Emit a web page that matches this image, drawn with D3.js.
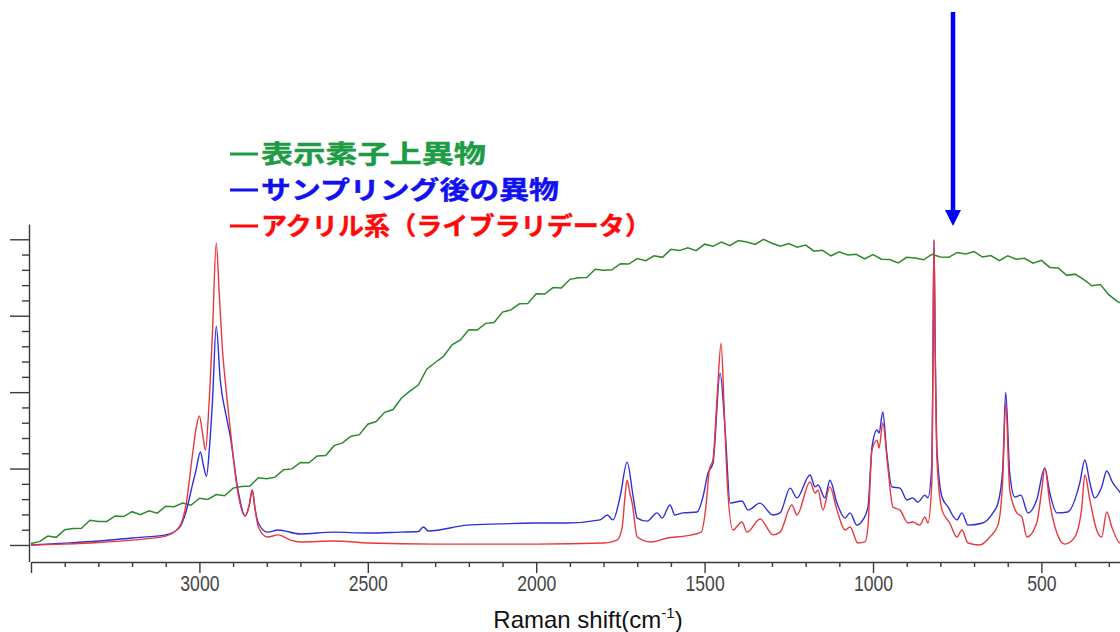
<!DOCTYPE html>
<html>
<head>
<meta charset="utf-8">
<script src="https://cdn.jsdelivr.net/npm/d3@7"></script>
<style>
  html, body { margin: 0; padding: 0; background: #fff; }
  svg { display: block; }
</style>
</head>
<body>
<script>
// spectra: [Raman shift (cm-1), intensity]
var greenSpectrum = [
  [3500,0.5],[3475,1.1],[3450,2.9],[3425,2.5],[3400,5.0],[3375,5.4],[3350,5.5],[3325,8.1],[3300,7.7],[3275,7.7],
  [3250,9.5],[3225,9.3],[3200,10.9],[3175,9.9],[3150,11.2],[3125,10.4],[3100,12.7],[3075,12.5],[3050,13.7],[3025,13.0],
  [3000,15.3],[2975,14.9],[2950,16.5],[2925,16.1],[2900,18.6],[2875,19.1],[2850,19.3],[2825,22.0],[2800,21.7],[2775,22.2],
  [2750,24.6],[2725,24.9],[2700,27.0],[2675,26.9],[2650,29.1],[2625,29.3],[2600,32.5],[2575,33.4],[2550,35.6],[2525,36.1],
  [2500,39.5],[2475,40.4],[2450,43.4],[2425,44.3],[2400,48.1],[2375,50.3],[2350,52.3],[2325,57.5],[2300,59.7],[2275,61.7],
  [2250,65.5],[2225,67.1],[2200,70.4],[2175,70.3],[2150,72.5],[2125,72.8],[2100,76.2],[2075,76.9],[2050,78.9],[2025,79.0],
  [2000,82.2],[1975,82.1],[1950,84.2],[1925,84.1],[1900,86.9],[1875,87.4],[1850,87.5],[1825,90.2],[1800,89.9],[1775,90.0],
  [1750,92.0],[1725,91.9],[1700,93.7],[1675,93.0],[1650,94.6],[1625,94.1],[1600,96.7],[1575,96.3],[1550,97.2],[1525,96.3],
  [1500,98.4],[1475,97.7],[1450,99.1],[1425,97.9],[1400,99.6],[1375,99.1],[1350,98.3],[1325,100.0],[1300,98.7],[1275,97.7],
  [1250,98.6],[1225,97.4],[1200,98.1],[1175,96.1],[1150,96.4],[1125,94.6],[1100,95.9],[1075,94.9],[1050,95.1],[1025,93.6],
  [1000,95.0],[975,93.5],[950,93.4],[925,92.3],[900,94.1],[875,93.9],[850,93.3],[825,95.1],[800,94.2],[775,94.1],
  [750,95.7],[725,95.2],[700,96.0],[675,94.2],[650,94.7],[625,93.0],[600,94.6],[575,93.5],[550,93.8],[525,92.2],
  [500,93.1],[475,90.8],[450,90.6],[425,88.2],[400,88.6],[375,86.9],[350,84.8],[325,85.2],[300,81.9],[275,79.7],[255,78.6]
];

var blueSpectrum = [
  [3500,0],[3400,0.6],[3300,1.3],[3200,2.3],[3100,3.3],[3060,5.6],[3040,10.8],[3020,20],[3010,24.5],[2997,30.4],
  [2988,26],[2979,22.5],[2970,32],[2961,47.4],[2950,71.6],[2938,53.9],[2920,42],[2908,35.3],[2887,19],[2864,9.5],
  [2852,13],[2843,18],[2835,12],[2825,7.2],[2798,4.2],[2766,4.9],[2700,3.6],[2602,4.2],[2502,3.9],[2404,4.2],
  [2350,4.4],[2335,5.9],[2320,4.6],[2205,6.5],[2107,6.9],[2009,7.2],[1908,7.2],[1810,8.2],[1789,9.8],[1772,8.2],
  [1751,15.7],[1730,27.1],[1712,15.7],[1700,8.8],[1671,7.8],[1641,10.5],[1626,8.8],[1603,13.1],[1588,9.8],[1564,10.5],
  [1522,10.8],[1505,15.7],[1490,23.5],[1475,26.8],[1454,56.2],[1439,37.6],[1424,13.7],[1389,14.4],[1371,11.4],[1336,13.7],
  [1297,9.8],[1276,10.5],[1246,18.6],[1226,15.4],[1187,22.9],[1172,19],[1163,19.6],[1143,15.4],[1128,21.2],[1107,13.7],
  [1083,8.8],[1068,10.5],[1048,6.5],[1030,8.2],[1015,12.4],[1003,32],[988,37.6],[982,36.6],[971,43.5],[959,30],
  [944,19],[920,18.6],[899,14.7],[882,15.4],[867,14],[846,16.3],[837,15.4],[825,26.8],[822,62],[819,99.5],
  [815,62],[810,31],[795,15.7],[777,12.4],[751,8.2],[736,10.5],[718,6.5],[674,7.2],[644,10.5],[629,13.7],
  [615,24.5],[606,50],[594,23.5],[579,15.7],[561,16.3],[540,10.5],[514,14.7],[490,25.2],[475,17],[454,10.5],
  [422,10.8],[386,20.3],[371,27.8],[356,20.3],[342,15.4],[321,19],[306,24.2],[288,20.3],[267,17.3],[255,15.5]
];

var redSpectrum = [
  [3500,0],[3400,0.3],[3300,0.8],[3200,1.6],[3100,2.9],[3060,5.9],[3040,13],[3020,30],[3010,38],[3000,42.2],
  [2990,36],[2982,31],[2972,45],[2961,70],[2950,98.7],[2941,82],[2932,64.7],[2920,50],[2908,37.6],[2887,18],
  [2864,9.5],[2852,13],[2843,18],[2835,12],[2825,5.9],[2798,2.6],[2766,3.3],[2730,1.6],[2700,1.0],[2600,1.3],
  [2500,0.65],[2300,0.3],[2000,0.3],[1800,0.65],[1760,1.6],[1745,5.6],[1737,15],[1730,21.2],[1722,17],[1715,13.7],
  [1700,2.6],[1660,1.0],[1610,2.3],[1560,2.9],[1510,4.2],[1495,13.7],[1486,24.5],[1475,28],[1462,50],[1451,66],
  [1442,45],[1433,21.2],[1416,4.9],[1389,7.5],[1374,4.2],[1335,8.5],[1297,3.3],[1276,4.2],[1241,13.1],[1226,9.8],
  [1187,20.6],[1172,17],[1163,18],[1149,11.4],[1128,19],[1107,11.4],[1083,4.9],[1068,5.9],[1045,0.65],[1024,1.0],
  [1015,5.9],[1003,31],[988,34.3],[982,31.7],[971,39.9],[956,25.5],[941,12.4],[920,11.4],[896,7.2],[882,7.5],
  [861,6.5],[846,9.2],[837,7.2],[825,21.2],[822,60],[819,100],[815,60],[810,27.8],[795,11.4],[772,7.2],
  [751,2.6],[736,4.9],[718,0.65],[683,0],[653,2.6],[629,6.5],[615,21],[606,46.4],[594,18],[573,10.5],
  [558,9.2],[543,2.6],[514,7.2],[499,18],[490,25.2],[475,13.7],[454,3.9],[431,0.3],[401,2.6],[380,12.4],
  [371,22.9],[356,14.7],[336,4.9],[321,2.6],[306,10.8],[291,5.9],[267,0.65],[255,0.5]
];

var xMajorTicks = [3500, 3000, 2500, 2000, 1500, 1000, 500];
var xTickLabels = ["", "3000", "2500", "2000", "1500", "1000", "500"];
var xMinorTicks = [3400, 3300, 3200, 3100, 2900, 2800, 2700, 2600, 2400, 2300, 2200, 2100,
  1900, 1800, 1700, 1600, 1400, 1300, 1200, 1100, 900, 800, 700, 600, 400, 300];
var yMajorTicks = [0, 25, 50, 75, 100];
var yMinorTicks = [5, 10, 15, 20, 30, 35, 40, 45, 55, 60, 65, 70, 80, 85, 90, 95];

var legendLabels = ["表示素子上異物", "サンプリング後の異物", "アクリル系（ライブラリデータ）"];
var legendColors = ["#1d9b45", "#1010f0", "#ff0a0a"];
var legendWidths = [225, 298, 390];

var width = 1120,
  height = 632,
  left = 29,
  bottom = 562

var svg = d3.select("body").append("svg")
  .attr("width", width)
  .attr("height", height)
  .style("font-family", "Arial, 'Liberation Sans', sans-serif")

var x = d3.scaleLinear().domain([3500, 255]).range([31, 31 + 3245 * 0.3368]);
var y = d3.scaleLinear().domain([-5.4, 105]).range([561.5, 224]);

svg.append("clipPath").attr("id", "plotclip")
  .append("rect").attr("x", left).attr("y", 0).attr("width", width - left).attr("height", bottom);

// y axis: minor ticks, then major ticks with the axis line
svg.append("g")
  .attr("transform", "translate(" + left + ",0)")
  .call(d3.axisLeft(y).tickValues(yMinorTicks).tickSize(7).tickFormat(""))
  .call(function (g) { g.select(".domain").remove(); });
svg.append("g")
  .attr("transform", "translate(" + left + ",0)")
  .call(d3.axisLeft(y).tickValues(yMajorTicks).tickSize(19).tickSizeOuter(0).tickFormat(""));

// x axis
svg.append("g")
  .attr("transform", "translate(0," + bottom + ")")
  .call(d3.axisBottom(x).tickValues(xMinorTicks).tickSize(5).tickFormat(""))
  .call(function (g) { g.select(".domain").remove(); });
var xAxis = svg.append("g")
  .attr("transform", "translate(0," + bottom + ")")
  .call(d3.axisBottom(x).tickValues(xMajorTicks).tickSize(11).tickSizeOuter(0)
    .tickFormat(function (d, i) { return xTickLabels[i]; }));

svg.selectAll(".domain, .tick line").attr("stroke", "#3a3a3a").attr("stroke-width", 1.4);

xAxis.selectAll(".tick text")
  .attr("y", 0).attr("dy", null)
  .attr("transform", "translate(0,29) scale(0.8,1)")
  .attr("font-size", 22)
  .attr("fill", "#444");

var line = d3.line()
  .curve(d3.curveMonotoneX)
  .x(function (d) { return x(d[0]); })
  .y(function (d) { return y(d[1]); });

// the fluorescence trace is noisy, keep it jagged
var noisyLine = d3.line()
  .x(function (d) { return x(d[0]); })
  .y(function (d) { return y(d[1]); });

var plot = svg.append("g").attr("clip-path", "url(#plotclip)");

plot.append("path").datum(greenSpectrum)
  .attr("d", noisyLine).attr("fill", "none")
  .attr("stroke", "#2b8a2b").attr("stroke-width", 1.5);
plot.append("path").datum(blueSpectrum)
  .attr("d", line).attr("fill", "none")
  .attr("stroke", "#2f2fd8").attr("stroke-width", 1.4);
plot.append("path").datum(redSpectrum)
  .attr("d", line).attr("fill", "none")
  .attr("stroke", "#e8383d").attr("stroke-width", 1.4);

// x title
var title = svg.append("text")
  .attr("x", 588).attr("y", 628)
  .attr("text-anchor", "middle")
  .attr("font-size", 24)
  .attr("fill", "#111");
title.append("tspan").text("Raman shift(cm");
title.append("tspan").attr("font-size", 15).attr("dy", -10).text("-1");
title.append("tspan").attr("dy", 10).text(")");

// legend: a bold dash then the label
var legendY = [163, 199, 235];
var legend = svg.selectAll(".legend")
  .data(legendLabels)
  .enter().append("g")
  .attr("class", "legend");

legend.append("line")
  .attr("x1", 230).attr("x2", 258)
  .attr("y1", function (d, i) { return legendY[i] - 9; })
  .attr("y2", function (d, i) { return legendY[i] - 9; })
  .attr("stroke", function (d, i) { return legendColors[i]; })
  .attr("stroke-width", 3);

legend.append("text")
  .attr("x", 261)
  .attr("y", function (d, i) { return legendY[i]; })
  .attr("font-family", "'Noto Sans CJK JP', sans-serif")
  .attr("font-weight", "bold")
  .attr("font-size", 25)
  .attr("textLength", function (d, i) { return legendWidths[i]; })
  .attr("lengthAdjust", "spacingAndGlyphs")
  .attr("fill", function (d, i) { return legendColors[i]; })
  .attr("stroke", function (d, i) { return legendColors[i]; })
  .attr("stroke-width", 0.4)
  .text(function (d) { return d; });

// arrow pointing at the 810 cm-1 band
svg.append("line")
  .attr("x1", 953).attr("x2", 953)
  .attr("y1", 12).attr("y2", 212)
  .attr("stroke", "#0000ff").attr("stroke-width", 4.5);
svg.append("path")
  .attr("d", "M945,210 L961,210 L953,226 Z")
  .attr("fill", "#0000ff");
</script>
</body>
</html>
